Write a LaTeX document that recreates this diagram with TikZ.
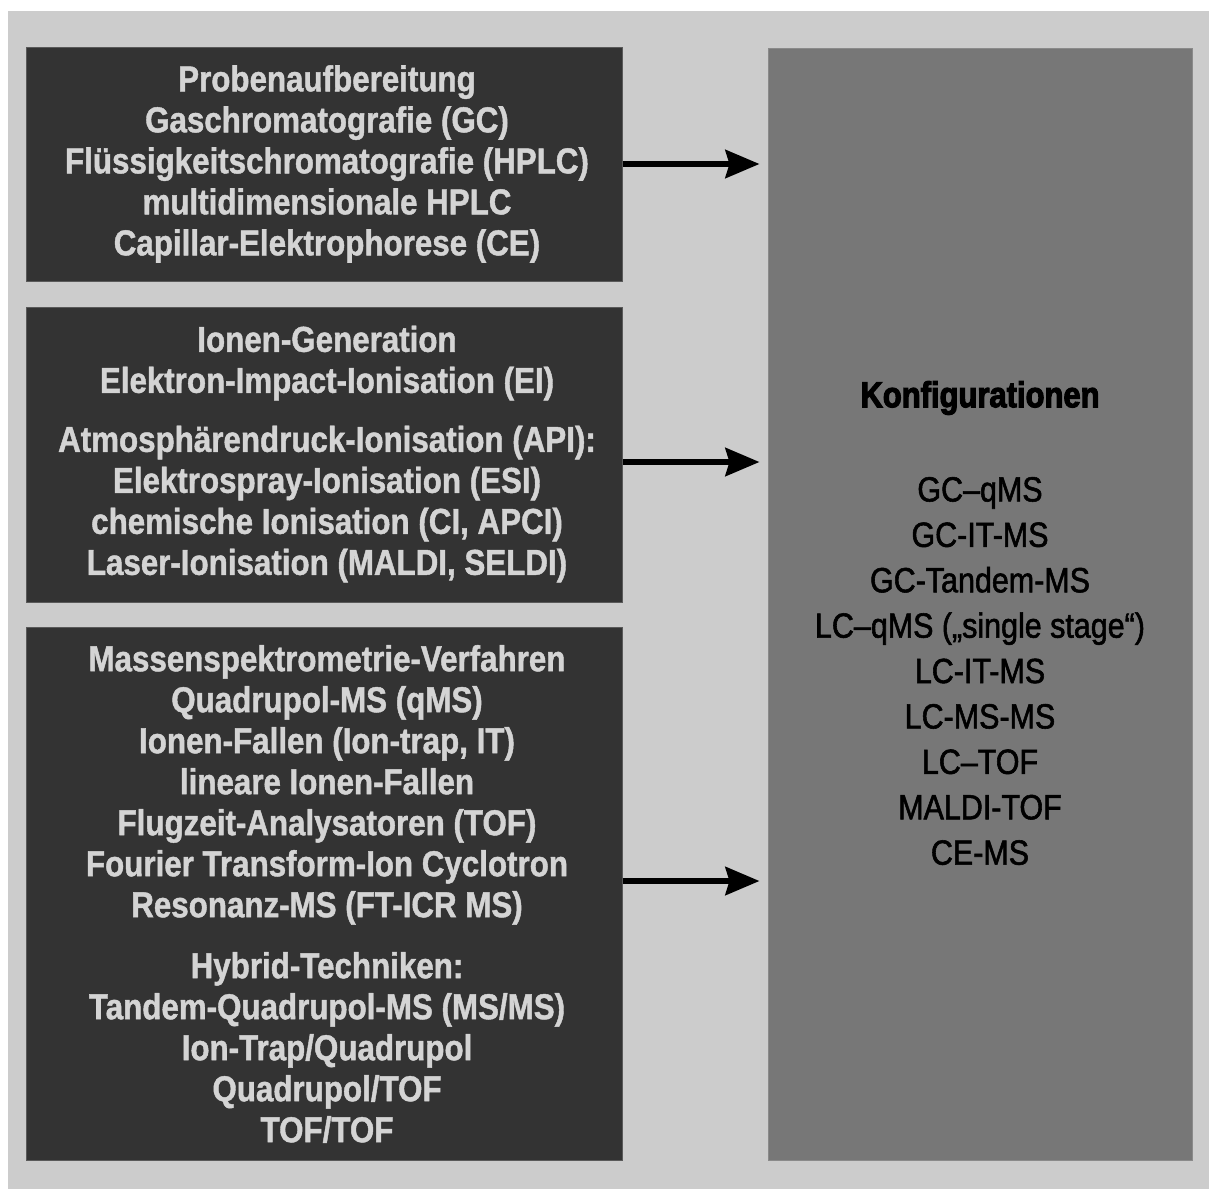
\documentclass[tikz,border=0pt]{standalone}
\usepackage{fontspec}
\usetikzlibrary{arrows.meta}
\newfontfamily\boxfont{Liberation Sans}[FakeStretch=0.88]
\newfontfamily\boxboldfont{Liberation Sans Bold}[FakeStretch=0.87,FakeBold=1.2]
\newfontfamily\heavyfont{Liberation Sans Bold}[FakeStretch=0.86,FakeBold=3]
\newfontfamily\itemfont{Liberation Sans}[FakeStretch=0.87,FakeBold=1.6]
\definecolor{paper}{HTML}{CCCCCC}
\definecolor{darkbox}{HTML}{333333}
\definecolor{darkedge}{HTML}{5A5A5A}
\definecolor{midbox}{HTML}{777777}
\definecolor{midedge}{HTML}{8A8A8A}
\definecolor{lighttext}{HTML}{D4D4D4}
\tikzset{
  stagebox/.style={draw=darkedge, line width=1pt, fill=darkbox, inner sep=0pt},
  resultbox/.style={draw=midedge, line width=1pt, fill=midbox, inner sep=0pt},
  stagetext/.style={text=lighttext, align=center, inner sep=0pt,
    font=\boxboldfont\fontsize{36}{41}\selectfont},
  titletext/.style={text=black, inner sep=0pt, font=\heavyfont\fontsize{36}{41}\selectfont},
  itemtext/.style={text=black, align=center, inner sep=0pt,
    font=\itemfont\fontsize{35}{45.4}\selectfont},
  flow/.style={line width=6pt, -{Stealth[length=34pt, width=28pt, inset=4pt]}, shorten >=8pt}
}
\begin{document}
\begin{tikzpicture}[x=1pt, y=-1pt]
  \useasboundingbox (0,0) rectangle (1209,1189);
  \fill[white] (0,0) rectangle (1209,1189);
  \fill[paper] (8,11) rectangle (1209,1189);

  % input stages
  \node[stagebox, minimum width=596pt, minimum height=234pt] (prep) at (324,164) {};
  \node[stagebox, minimum width=596pt, minimum height=295pt] (ion) at (324,454.5) {};
  \node[stagebox, minimum width=596pt, minimum height=533pt] (ms) at (324,893.5) {};

  % configurations
  \node[resultbox, minimum width=424pt, minimum height=1112pt] (conf) at (980,604) {};

  \node[stagetext] (preptext) at (327,164) {Probenaufbereitung\\
    Gaschromatografie (GC)\\
    Flüssigkeitschromatografie (HPLC)\\
    multidimensionale HPLC\\
    Capillar-Elektrophorese (CE)};

  \node[stagetext] (iontext) at (327,454) {Ionen-Generation\\
    Elektron-Impact-Ionisation (EI)\\[18pt]
    Atmosphärendruck-Ionisation (API):\\
    Elektrospray-Ionisation (ESI)\\
    chemische Ionisation (CI, APCI)\\
    Laser-Ionisation (MALDI, SELDI)};

  \node[stagetext] (mstext) at (327,894) {Massenspektrometrie-Verfahren\\
    Quadrupol-MS (qMS)\\
    Ionen-Fallen (Ion-trap, IT)\\
    lineare Ionen-Fallen\\
    Flugzeit-Analysatoren (TOF)\\
    Fourier Transform-Ion Cyclotron\\
    Resonanz-MS (FT-ICR MS)\\[20pt]
    Hybrid-Techniken:\\
    Tandem-Quadrupol-MS (MS/MS)\\
    Ion-Trap/Quadrupol\\
    Quadrupol/TOF\\
    TOF/TOF};

  \node[titletext] (conftitle) at (980,398) {Konfigurationen};

  \node[itemtext] (confitems) at (980,671) {GC–qMS\\
    GC-IT-MS\\
    GC-Tandem-MS\\
    LC–qMS („single stage“)\\
    LC-IT-MS\\
    LC-MS-MS\\
    LC–TOF\\
    MALDI-TOF\\
    CE-MS};

  % flow into the configurations
  \draw[flow] (prep.east) -- (conf.west |- prep.east);
  \draw[flow] (ion.east |- 0,462) -- (conf.west |- 0,462);
  \draw[flow] (ms.east |- 0,881) -- (conf.west |- 0,881);
\end{tikzpicture}
\end{document}
